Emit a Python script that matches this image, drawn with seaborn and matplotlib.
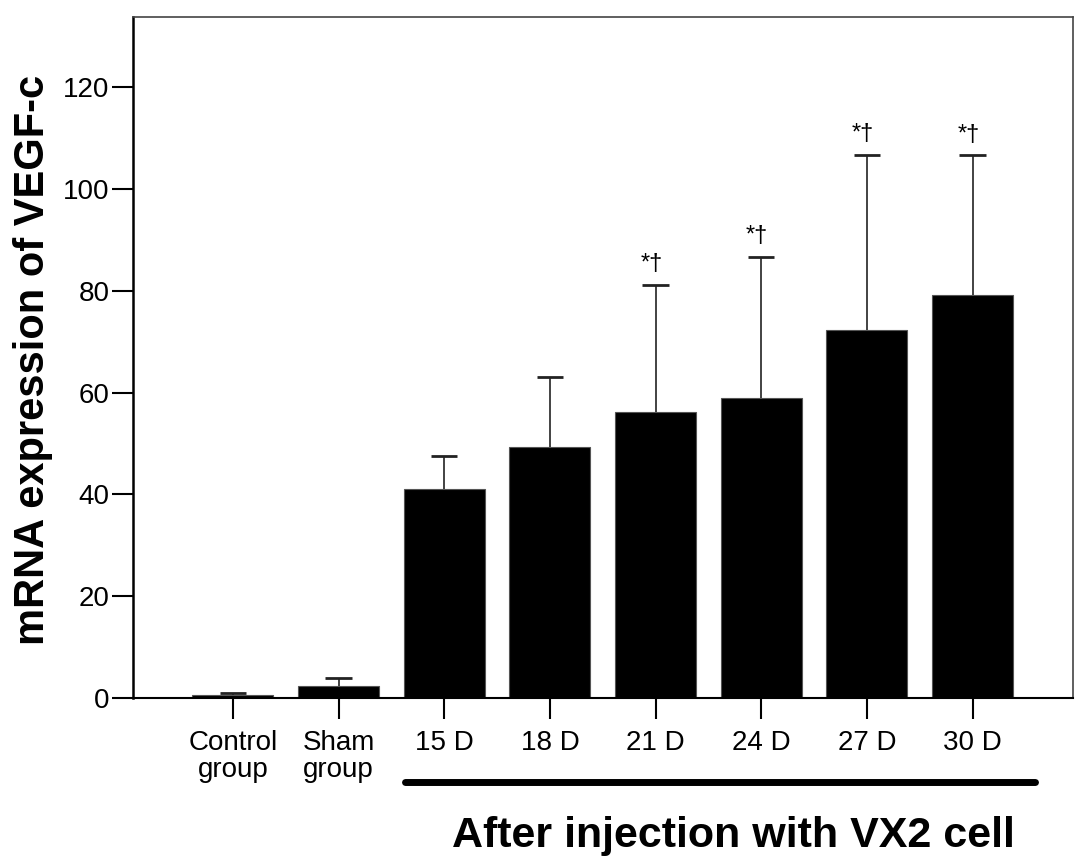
import matplotlib
matplotlib.use("Agg")
import matplotlib.pyplot as plt
import matplotlib.transforms as mtransforms
import seaborn as sns
import numpy as np
import pandas as pd

categories = ["Control\ngroup", "Sham\ngroup", "15 D", "18 D", "21 D", "24 D", "27 D", "30 D"]
means = [0.6, 2.4, 41.1, 49.4, 56.1, 58.9, 72.4, 79.2]
errors = [0.3, 1.6, 6.4, 13.7, 25.1, 27.8, 34.3, 27.4]
annotations = ["", "", "", "", "*\u2020", "*\u2020", "*\u2020", "*\u2020"]
y_ticks = [0, 20, 40, 60, 80, 100, 120]

sns.set_theme(style="white")
plt.rcParams['font.family'] = ['Liberation Sans', 'DejaVu Sans']

fig = plt.figure(figsize=(10.86, 8.64), dpi=100)
ax = fig.add_axes([133/1086, 1 - 698/864, (1073-133)/1086, (698-17)/864])

df = pd.DataFrame({"group": categories, "value": means})
sns.barplot(data=df, x="group", y="value", color="black", width=0.766,
            edgecolor="#555555", linewidth=0.8, saturation=1, errorbar=None, ax=ax)

xpos = np.arange(len(categories))
tops = np.array(means) + np.array(errors)
# one-sided (upper) error bars: stem from bar top, cap only at the upper end
ax.vlines(xpos, means, tops, color="#222222", linewidth=1.2, zorder=3)
ax.hlines(tops, xpos - 0.125, xpos + 0.125, color="#222222", linewidth=2.0, zorder=3)

for x, t, a in zip(xpos, tops, annotations):
    if a:
        ax.annotate(a, xy=(x, t), xytext=(-3, 7), textcoords="offset points",
                    ha="center", va="bottom", fontsize=17, color="black")

ax.set_xlim(-0.946, 7.95)
ax.set_ylim(0, 133.8)
ax.set_yticks(y_ticks)
ax.set_yticklabels([str(t) for t in y_ticks])
ax.set_xlabel("")
ax.set_ylabel("")

ax.tick_params(axis="y", direction="out", length=15, width=1.5, pad=2, labelsize=20, colors="black", left=True)
ax.tick_params(axis="x", direction="out", length=15, width=1.5, pad=8, labelsize=20, colors="black", bottom=True)
for lbl in ax.get_xticklabels():
    lbl.set_linespacing(1.05)

for side in ["left", "top", "right", "bottom"]:
    ax.spines[side].set_visible(True)
    ax.spines[side].set_color("black")
ax.spines["left"].set_linewidth(1.8)
ax.spines["bottom"].set_linewidth(1.5)
ax.spines["top"].set_linewidth(1.2)
ax.spines["top"].set_color("#444444")
ax.spines["right"].set_linewidth(1.2)
ax.spines["right"].set_color("#444444")

trans = mtransforms.blended_transform_factory(ax.transData, ax.transAxes)
ax.plot([1.63, 7.59], [-0.1233, -0.1233], transform=trans, color="black",
        linewidth=5, solid_capstyle="round", clip_on=False)

fig.text(733/1086, 1 - 836/864, "After injection with VX2 cell", ha="center", va="center",
         fontsize=31, fontweight="bold", color="black")
fig.text(33/1086, 1 - 360/864, "mRNA expression of VEGF-c", ha="center", va="center",
         rotation=90, fontsize=30, fontweight="bold", color="black")

fig.savefig("out.png", dpi=100)
